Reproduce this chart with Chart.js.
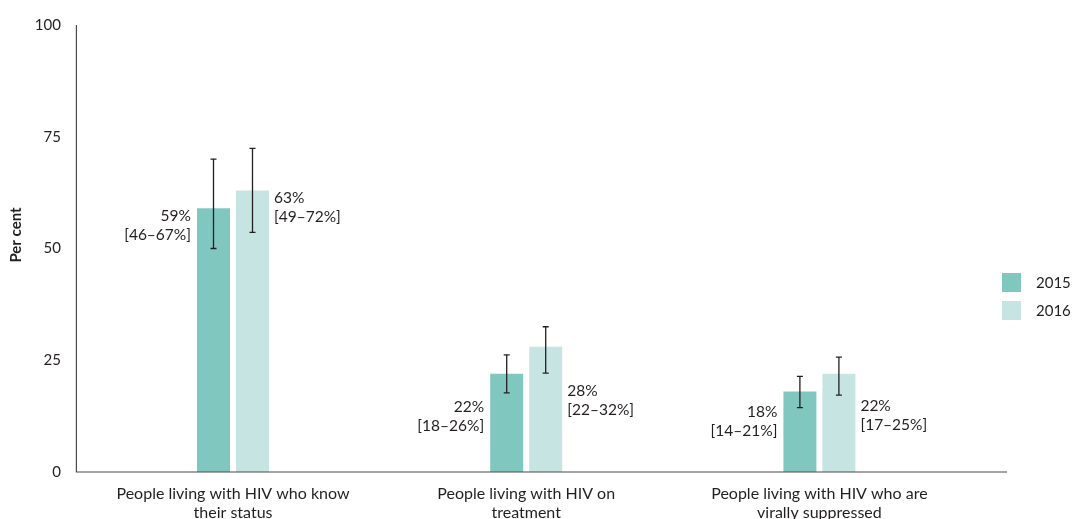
<!DOCTYPE html>
<html>
<head>
<meta charset="utf-8">
<script src="https://cdn.jsdelivr.net/npm/chart.js@4.4.0/dist/chart.umd.min.js"></script>
<style>
    body { margin: 0; background: #fff; }
    #grafico { display: block; }
</style>
</head>
<body>
<canvas id="grafico" width="1072" height="519"></canvas>
<script>
const categorias = [
    ['People living with HIV who know', 'their status'],
    ['People living with HIV on', 'treatment'],
    ['People living with HIV who are', 'virally suppressed']
];
const anios = ['2015', '2016'];
const valores2015 = [59, 22, 18];
const valores2016 = [63, 28, 22];
// extremos de las barras de error, tal como estan dibujadas
const bajo2015 = [50, 17.7, 14.4];
const alto2015 = [70, 26.2, 21.4];
const bajo2016 = [53.6, 22.1, 17.2];
const alto2016 = [72.4, 32.5, 25.7];
const etiquetas2015 = [['59%', '[46–67%]'], ['22%', '[18–26%]'], ['18%', '[14–21%]']];
const etiquetas2016 = [['63%', '[49–72%]'], ['28%', '[22–32%]'], ['22%', '[17–25%]']];
const ticksY = [0, 25, 50, 75, 100];

// desplazamiento vertical (px) de cada etiqueta respecto a la parte alta de la barra
const desfase2015 = [8, 33, 20];
const desfase2016 = [8, 44, 32];

const COLOR_2015 = '#80c8bf';
const COLOR_2016 = '#c6e5e2';
const TEXTO = '#231f20';
const FUENTE = 'Lato, "Noto Sans", sans-serif';

const extras = {
    id: 'extras',
    afterDatasetsDraw(chart) {
        const ctx = chart.ctx;
        const area = chart.chartArea;
        const y = chart.scales.y;

        // ejes
        ctx.save();
        ctx.strokeStyle = '#4a4a4a';
        ctx.lineWidth = 1.2;
        ctx.beginPath();
        ctx.moveTo(area.left - 10, area.top);
        ctx.lineTo(area.left - 10, area.bottom);
        ctx.lineTo(area.right + 41, area.bottom);
        ctx.stroke();

        // barras de error
        const errores = [[bajo2015, alto2015], [bajo2016, alto2016]];
        ctx.strokeStyle = TEXTO;
        ctx.lineWidth = 1.3;
        errores.forEach(([bajo, alto], d) => {
            chart.getDatasetMeta(d).data.forEach((barra, i) => {
                const y1 = y.getPixelForValue(alto[i]);
                const y2 = y.getPixelForValue(bajo[i]);
                ctx.beginPath();
                ctx.moveTo(barra.x, y1);
                ctx.lineTo(barra.x, y2);
                ctx.moveTo(barra.x - 3, y1);
                ctx.lineTo(barra.x + 3, y1);
                ctx.moveTo(barra.x - 3, y2);
                ctx.lineTo(barra.x + 3, y2);
                ctx.stroke();
            });
        });

        // etiquetas de valores
        ctx.fillStyle = TEXTO;
        ctx.font = '15.5px ' + FUENTE;
        ctx.textBaseline = 'middle';
        chart.getDatasetMeta(0).data.forEach((barra, i) => {
            ctx.textAlign = 'right';
            const x = barra.x - barra.width / 2 - 6;
            ctx.fillText(etiquetas2015[i][0], x, barra.y + desfase2015[i]);
            ctx.fillText(etiquetas2015[i][1], x, barra.y + desfase2015[i] + 19);
        });
        chart.getDatasetMeta(1).data.forEach((barra, i) => {
            ctx.textAlign = 'left';
            const x = barra.x + barra.width / 2 + 5;
            ctx.fillText(etiquetas2016[i][0], x, barra.y + desfase2016[i]);
            ctx.fillText(etiquetas2016[i][1], x, barra.y + desfase2016[i] + 19);
        });

        // titulo eje Y
        ctx.save();
        ctx.translate(16, 235);
        ctx.rotate(-Math.PI / 2);
        ctx.textAlign = 'center';
        ctx.font = 'bold 15px ' + FUENTE;
        ctx.fillText('Per cent', 0, 0);
        ctx.restore();

        // leyenda
        const colores = [COLOR_2015, COLOR_2016];
        ctx.font = '15px ' + FUENTE;
        ctx.textAlign = 'left';
        anios.forEach((a, i) => {
            const top = 273 + i * 28;
            ctx.fillStyle = colores[i];
            ctx.fillRect(1002, top, 19, 19);
            ctx.fillStyle = TEXTO;
            ctx.fillText(a, 1036, top + 10);
        });
        ctx.restore();
    }
};

new Chart(document.getElementById('grafico'), {
    type: 'bar',
    data: {
        labels: categorias,
        datasets: [
            { label: anios[0], data: valores2015, backgroundColor: COLOR_2015 },
            { label: anios[1], data: valores2016, backgroundColor: COLOR_2016 }
        ]
    },
    options: {
        responsive: false,
        animation: false,
        categoryPercentage: 0.266,
        barPercentage: 0.846,
        layout: { padding: { top: 25, right: 106, bottom: 0, left: 0 } },
        plugins: { legend: { display: false }, tooltip: { enabled: false } },
        scales: {
            x: {
                grid: { display: false, drawTicks: false },
                border: { display: false },
                ticks: { color: TEXTO, padding: 12, font: { family: FUENTE, size: 16, lineHeight: 1.19 } },
                afterFit: s => { s.height = 47; }
            },
            y: {
                min: 0,
                max: 100,
                afterBuildTicks: s => { s.ticks = ticksY.map(v => ({ value: v })); },
                grid: { display: false, drawTicks: false },
                border: { display: false },
                ticks: { color: TEXTO, padding: 25.5, font: { family: FUENTE, size: 15 } },
                afterFit: s => {
                    s.width = 86.4;
                    s.paddingTop = 0;
                    s.paddingBottom = 0;
                }
            }
        }
    },
    plugins: [extras]
});
</script>
</body>
</html>
